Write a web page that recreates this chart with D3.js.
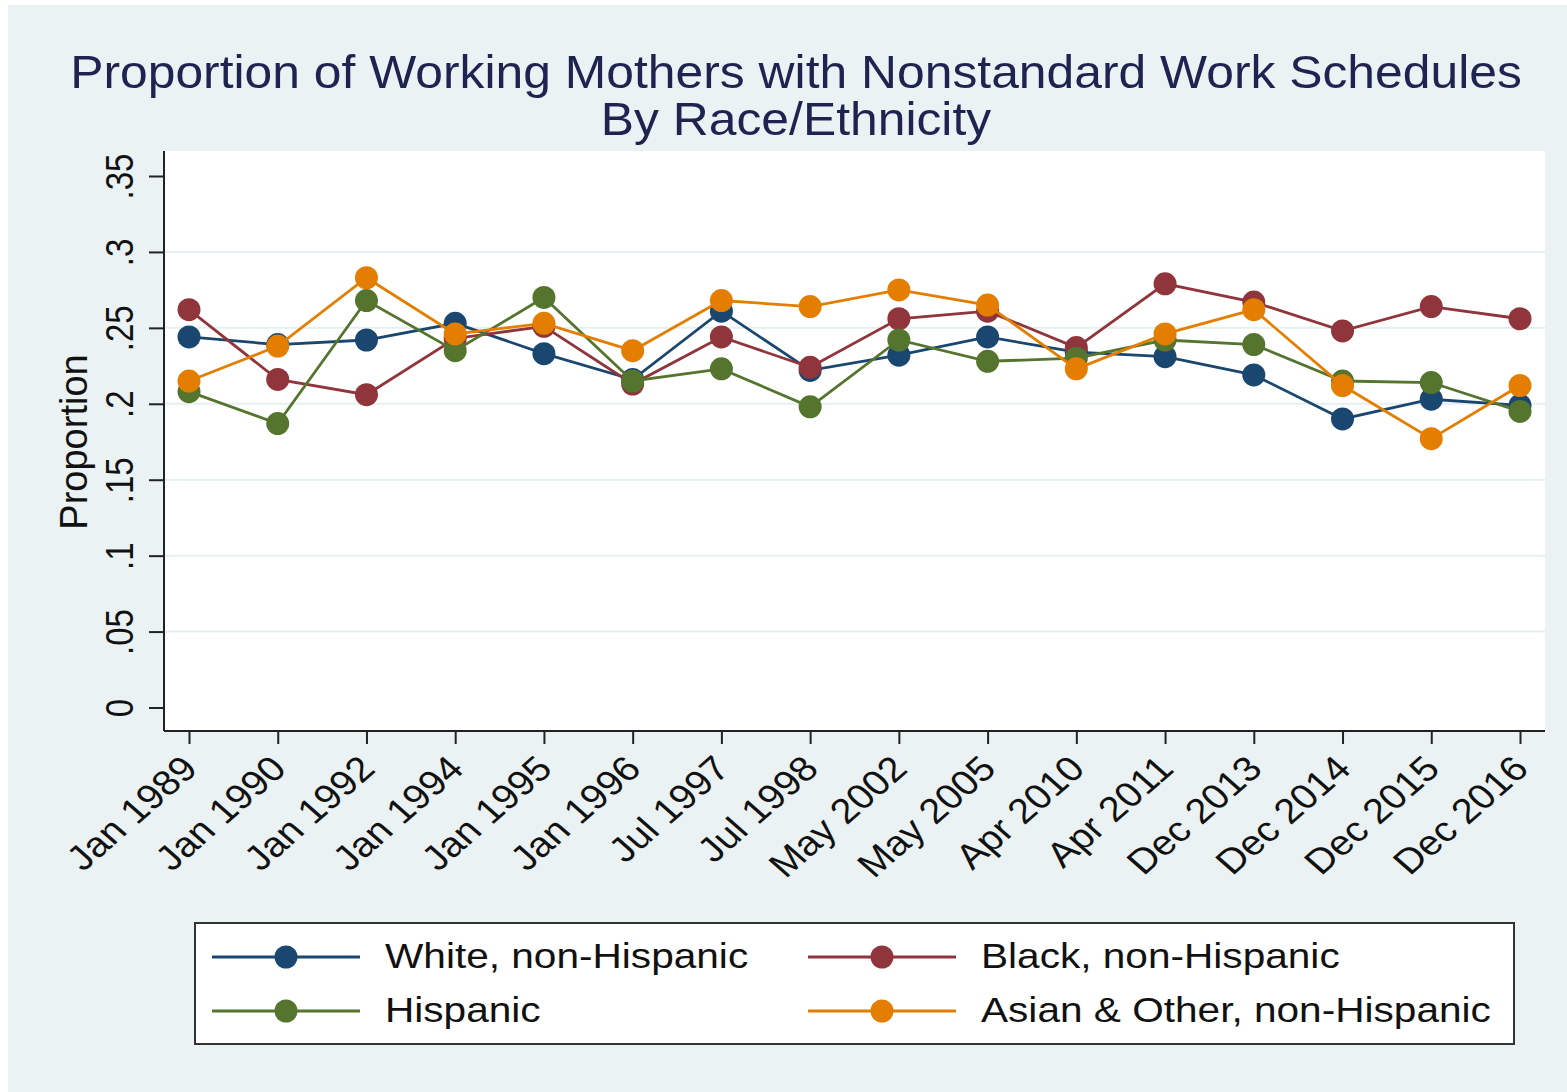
<!DOCTYPE html>
<head>
  <meta charset="utf-8">
  <script src="https://d3js.org/d3.v7.min.js"></script>
  <style>
    body {
      margin:0;position:fixed;top:0;right:0;bottom:0;left:0;
      font-family: "Liberation Sans", Arial, sans-serif;
      background-color: white;
    }
  </style>
</head>

<body>
  <script>
    // chart values
    var categories = ["Jan 1989", "Jan 1990", "Jan 1992", "Jan 1994", "Jan 1995", "Jan 1996",
      "Jul 1997", "Jul 1998", "May 2002", "May 2005", "Apr 2010", "Apr 2011",
      "Dec 2013", "Dec 2014", "Dec 2015", "Dec 2016"];
    var seriesNames = ["White, non-Hispanic", "Black, non-Hispanic", "Hispanic", "Asian & Other, non-Hispanic"];
    var white    = [0.244, 0.239, 0.242, 0.253, 0.233, 0.216, 0.261, 0.222, 0.232, 0.244, 0.234, 0.231, 0.219, 0.190, 0.203, 0.199];
    var black    = [0.262, 0.216, 0.206, 0.243, 0.251, 0.213, 0.244, 0.224, 0.256, 0.261, 0.237, 0.279, 0.267, 0.248, 0.264, 0.256];
    var hispanic = [0.208, 0.187, 0.268, 0.235, 0.270, 0.215, 0.223, 0.198, 0.242, 0.228, 0.230, 0.242, 0.239, 0.215, 0.214, 0.195];
    var asian    = [0.215, 0.238, 0.283, 0.246, 0.253, 0.235, 0.268, 0.264, 0.275, 0.265, 0.223, 0.246, 0.262, 0.212, 0.177, 0.212];
    var yTicks = [0, 0.05, 0.1, 0.15, 0.2, 0.25, 0.3, 0.35];
    var yTickLabels = ["0", ".05", ".1", ".15", ".2", ".25", ".3", ".35"];

    var colors = ["#1a476f", "#90353b", "#55752f", "#e37e00"];
    var series = [white, black, hispanic, asian];

    var W = 1567, H = 1092;
    var svg = d3.select("body").append("svg")
      .attr("width", W)
      .attr("height", H)

    // graph region
    svg.append("rect")
      .attr("x", 8).attr("y", 5)
      .attr("width", W - 8).attr("height", H - 5)
      .style("fill", "#eaf2f3")

    var plotL = 164, plotR = 1545, plotT = 151, plotB = 731;

    svg.append("rect")
      .attr("x", plotL).attr("y", plotT)
      .attr("width", plotR - plotL).attr("height", plotB - plotT)
      .style("fill", "white")

    var x = d3.scalePoint()
      .domain(categories)
      .range([189, 1520])

    var y = d3.scaleLinear()
      .domain([0, 0.35])
      .range([707.5, 176])

    // grid
    svg.selectAll(".grid").data(yTicks.filter(function(d) {return d > 0 && d < 0.35}))
      .enter().append("line")
      .attr("class", "grid")
      .attr("x1", plotL + 1).attr("x2", plotR)
      .attr("y1", function(d) {return y(d)}).attr("y2", function(d) {return y(d)})
      .style("stroke", "#e6eff1")
      .style("stroke-width", 2)

    // y axis
    var yAxis = d3.axisLeft(y)
      .tickValues(yTicks)
      .tickSize(15)
      .tickFormat(function(d, i) {return yTickLabels[i]})

    var yg = svg.append("g")
      .attr("transform", "translate(" + plotL + ",0)")
      .call(yAxis)
    yg.select(".domain").attr("d", "M0," + plotT + "V" + plotB).style("stroke", "#222").style("stroke-width", 2)
    yg.selectAll(".tick line").style("stroke", "#222").style("stroke-width", 2)
    yg.selectAll(".tick text")
      .attr("x", null).attr("dy", null)
      .attr("transform", "translate(-31,0) scale(1.2,1) rotate(-90)")
      .attr("text-anchor", "middle")
      .style("font-family", "Liberation Sans, Arial, sans-serif")
      .style("font-size", "33px")
      .style("fill", "#111")

    svg.append("text")
      .attr("transform", "translate(87,442) rotate(-90)")
      .attr("text-anchor", "middle")
      .style("font-size", "38px")
      .style("fill", "#111")
      .text("Proportion")

    // x axis
    var xAxis = d3.axisBottom(x).tickSize(13)
    var xg = svg.append("g")
      .attr("transform", "translate(0," + plotB + ")")
      .call(xAxis)
    xg.select(".domain").attr("d", "M" + plotL + ",0H" + plotR).style("stroke", "#222").style("stroke-width", 2)
    xg.selectAll(".tick line").style("stroke", "#222").style("stroke-width", 2)
    xg.selectAll(".tick text")
      .attr("y", null).attr("dy", "0.35em")
      .attr("transform", "translate(0,31) scale(1.14,1) rotate(-45)")
      .attr("text-anchor", "end")
      .style("font-family", "Liberation Sans, Arial, sans-serif")
      .style("font-size", "35px")
      .style("fill", "#111")

    // lines + markers
    var line = d3.line()
      .x(function(d, i) {return x(categories[i])})
      .y(function(d) {return y(d)})

    series.forEach(function(s, k) {
      svg.append("path")
        .datum(s)
        .attr("d", line)
        .style("fill", "none")
        .style("stroke", colors[k])
        .style("stroke-width", 2.8)
      svg.selectAll(".m" + k).data(s).enter().append("circle")
        .attr("class", "m" + k)
        .attr("cx", function(d, i) {return x(categories[i])})
        .attr("cy", function(d) {return y(d)})
        .attr("r", 11.5)
        .style("fill", colors[k])
    })

    // title
    var titleLines = ["Proportion of Working Mothers with Nonstandard Work Schedules", "By Race/Ethnicity"];
    svg.selectAll(".title").data(titleLines)
      .enter().append("text")
      .attr("class", "title")
      .attr("transform", function(d, i) {return "translate(796," + (88 + i * 47) + ") scale(1.06,1)"})
      .attr("text-anchor", "middle")
      .style("font-size", "47px")
      .style("fill", "#1e2350")
      .text(function(d) {return d})

    // legend
    svg.append("rect")
      .attr("x", 195).attr("y", 923)
      .attr("width", 1319).attr("height", 121)
      .style("fill", "white")
      .style("stroke", "#333")
      .style("stroke-width", 2)

    var legend = svg.selectAll(".legend")
      .data(seriesNames)
      .enter().append("g")
      .attr("class", "legend")
      .attr("transform", function(d, i) {
        return "translate(" + (i % 2 === 0 ? 212 : 808) + "," + (i < 2 ? 957 : 1011) + ")";
      })
    legend.append("line")
      .attr("x1", 0).attr("x2", 148)
      .style("stroke", function(d, i) {return colors[i]})
      .style("stroke-width", 2.8)
    legend.append("circle")
      .attr("cx", 74).attr("r", 11.5)
      .style("fill", function(d, i) {return colors[i]})
    legend.append("text")
      .attr("transform", "translate(173,11) scale(1.16,1)")
      .style("font-size", "35px")
      .style("fill", "#111")
      .text(function(d) {return d})
  </script>
</body>
